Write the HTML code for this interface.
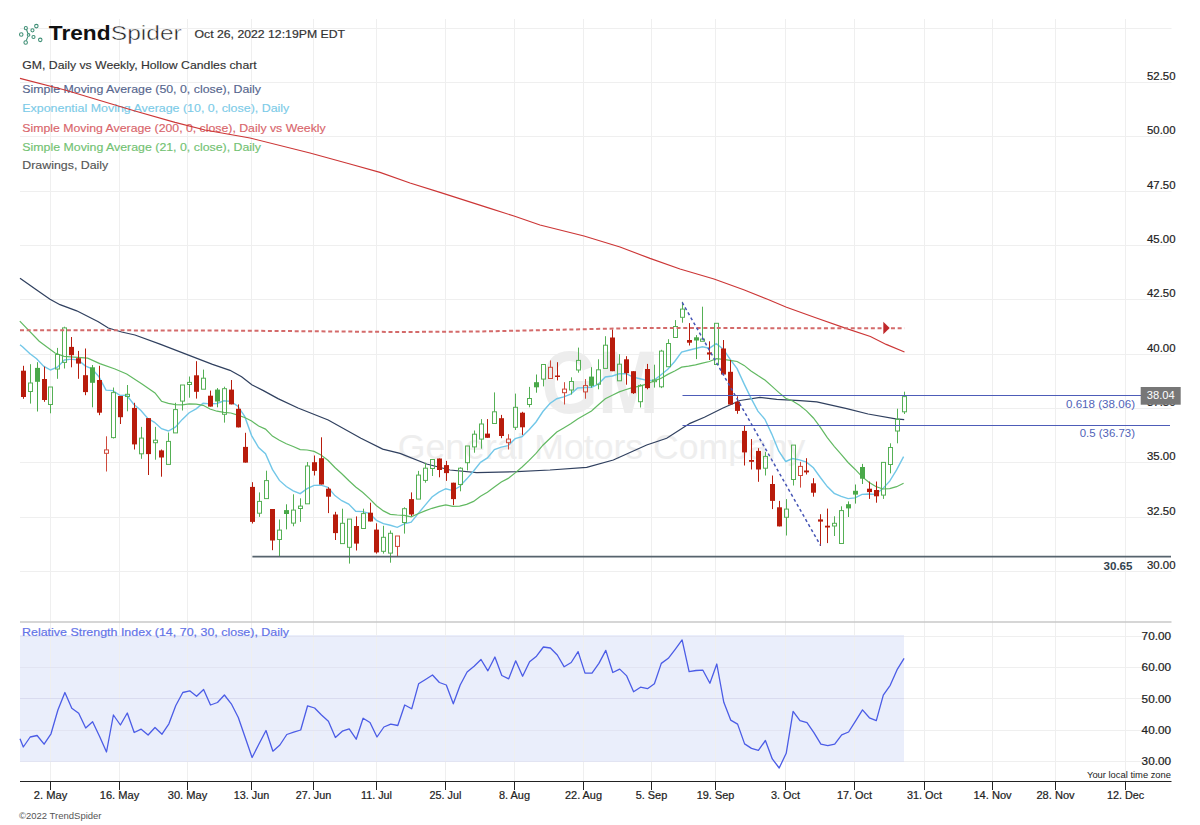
<!DOCTYPE html><html><head><meta charset="utf-8"><style>html,body{margin:0;padding:0;background:#fff;}svg{display:block}</style></head><body>
<svg width="1200" height="825" viewBox="0 0 1200 825" font-family="Liberation Sans, sans-serif">
<rect width="1200" height="825" fill="#fff"/>
<rect x="20" y="635" width="884" height="126.5" fill="#eaeefb"/>
<line x1="50.5" y1="19" x2="50.5" y2="781" stroke="#efefef" stroke-width="1"/>
<line x1="119.5" y1="19" x2="119.5" y2="781" stroke="#efefef" stroke-width="1"/>
<line x1="187.5" y1="19" x2="187.5" y2="781" stroke="#efefef" stroke-width="1"/>
<line x1="251.5" y1="19" x2="251.5" y2="781" stroke="#efefef" stroke-width="1"/>
<line x1="313.5" y1="19" x2="313.5" y2="781" stroke="#efefef" stroke-width="1"/>
<line x1="376.5" y1="19" x2="376.5" y2="781" stroke="#efefef" stroke-width="1"/>
<line x1="445.5" y1="19" x2="445.5" y2="781" stroke="#efefef" stroke-width="1"/>
<line x1="514.5" y1="19" x2="514.5" y2="781" stroke="#efefef" stroke-width="1"/>
<line x1="583.5" y1="19" x2="583.5" y2="781" stroke="#efefef" stroke-width="1"/>
<line x1="651.5" y1="19" x2="651.5" y2="781" stroke="#efefef" stroke-width="1"/>
<line x1="715.5" y1="19" x2="715.5" y2="781" stroke="#efefef" stroke-width="1"/>
<line x1="785.5" y1="19" x2="785.5" y2="781" stroke="#efefef" stroke-width="1"/>
<line x1="854.5" y1="19" x2="854.5" y2="781" stroke="#efefef" stroke-width="1"/>
<line x1="924.5" y1="19" x2="924.5" y2="781" stroke="#efefef" stroke-width="1"/>
<line x1="992.5" y1="19" x2="992.5" y2="781" stroke="#efefef" stroke-width="1"/>
<line x1="1055.5" y1="19" x2="1055.5" y2="781" stroke="#efefef" stroke-width="1"/>
<line x1="1125.5" y1="19" x2="1125.5" y2="781" stroke="#efefef" stroke-width="1"/>
<line x1="20" y1="82.5" x2="1171.5" y2="82.5" stroke="#efefef" stroke-width="1"/>
<line x1="20" y1="136.5" x2="1171.5" y2="136.5" stroke="#efefef" stroke-width="1"/>
<line x1="20" y1="191.5" x2="1171.5" y2="191.5" stroke="#efefef" stroke-width="1"/>
<line x1="20" y1="245.5" x2="1171.5" y2="245.5" stroke="#efefef" stroke-width="1"/>
<line x1="20" y1="299.5" x2="1171.5" y2="299.5" stroke="#efefef" stroke-width="1"/>
<line x1="20" y1="354.5" x2="1171.5" y2="354.5" stroke="#efefef" stroke-width="1"/>
<line x1="20" y1="408.5" x2="1171.5" y2="408.5" stroke="#efefef" stroke-width="1"/>
<line x1="20" y1="462.5" x2="1171.5" y2="462.5" stroke="#efefef" stroke-width="1"/>
<line x1="20" y1="517.5" x2="1171.5" y2="517.5" stroke="#efefef" stroke-width="1"/>
<line x1="20" y1="571.5" x2="1171.5" y2="571.5" stroke="#efefef" stroke-width="1"/>
<line x1="20" y1="28.5" x2="1171.5" y2="28.5" stroke="#efefef" stroke-width="1"/>
<line x1="20" y1="636.5" x2="904" y2="636.5" stroke="#e2e4f2" stroke-width="1"/>
<line x1="904" y1="636.5" x2="1171.5" y2="636.5" stroke="#efefef" stroke-width="1"/>
<line x1="20" y1="667.5" x2="904" y2="667.5" stroke="#e2e4f2" stroke-width="1"/>
<line x1="904" y1="667.5" x2="1171.5" y2="667.5" stroke="#efefef" stroke-width="1"/>
<line x1="20" y1="698.5" x2="904" y2="698.5" stroke="#d9dbef" stroke-width="1"/>
<line x1="904" y1="698.5" x2="1171.5" y2="698.5" stroke="#efefef" stroke-width="1"/>
<line x1="20" y1="730.5" x2="904" y2="730.5" stroke="#e2e4f2" stroke-width="1"/>
<line x1="904" y1="730.5" x2="1171.5" y2="730.5" stroke="#efefef" stroke-width="1"/>
<line x1="20" y1="761.5" x2="904" y2="761.5" stroke="#e2e4f2" stroke-width="1"/>
<line x1="904" y1="761.5" x2="1171.5" y2="761.5" stroke="#efefef" stroke-width="1"/>
<line x1="20" y1="622" x2="1171.5" y2="622" stroke="#c9c9c9" stroke-width="1.5"/>
<text x="541.3" y="412.5" font-size="89" font-weight="bold" fill="#ededed" textLength="117.4" lengthAdjust="spacingAndGlyphs">GM</text>
<text x="397.8" y="459" font-size="35.6" fill="#eeeeee" textLength="407.6" lengthAdjust="spacingAndGlyphs">General Motors Company</text>
<text x="1175.5" y="80.0" font-size="11" fill="#222" stroke="#222" stroke-width="0.2" text-anchor="end" textLength="28.5" lengthAdjust="spacingAndGlyphs">52.50</text>
<text x="1175.5" y="134.3" font-size="11" fill="#222" stroke="#222" stroke-width="0.2" text-anchor="end" textLength="28.5" lengthAdjust="spacingAndGlyphs">50.00</text>
<text x="1175.5" y="188.7" font-size="11" fill="#222" stroke="#222" stroke-width="0.2" text-anchor="end" textLength="28.5" lengthAdjust="spacingAndGlyphs">47.50</text>
<text x="1175.5" y="243.0" font-size="11" fill="#222" stroke="#222" stroke-width="0.2" text-anchor="end" textLength="28.5" lengthAdjust="spacingAndGlyphs">45.00</text>
<text x="1175.5" y="297.3" font-size="11" fill="#222" stroke="#222" stroke-width="0.2" text-anchor="end" textLength="28.5" lengthAdjust="spacingAndGlyphs">42.50</text>
<text x="1175.5" y="351.7" font-size="11" fill="#222" stroke="#222" stroke-width="0.2" text-anchor="end" textLength="28.5" lengthAdjust="spacingAndGlyphs">40.00</text>
<text x="1175.5" y="406.0" font-size="11" fill="#222" stroke="#222" stroke-width="0.2" text-anchor="end" textLength="28.5" lengthAdjust="spacingAndGlyphs">37.50</text>
<text x="1175.5" y="460.3" font-size="11" fill="#222" stroke="#222" stroke-width="0.2" text-anchor="end" textLength="28.5" lengthAdjust="spacingAndGlyphs">35.00</text>
<text x="1175.5" y="514.7" font-size="11" fill="#222" stroke="#222" stroke-width="0.2" text-anchor="end" textLength="28.5" lengthAdjust="spacingAndGlyphs">32.50</text>
<text x="1175.5" y="569.0" font-size="11" fill="#222" stroke="#222" stroke-width="0.2" text-anchor="end" textLength="28.5" lengthAdjust="spacingAndGlyphs">30.00</text>
<text x="1171" y="640" font-size="10.6" fill="#222" stroke="#222" stroke-width="0.2" text-anchor="end" textLength="29.4" lengthAdjust="spacingAndGlyphs">70.00</text>
<text x="1171" y="671.2" font-size="10.6" fill="#222" stroke="#222" stroke-width="0.2" text-anchor="end" textLength="29.4" lengthAdjust="spacingAndGlyphs">60.00</text>
<text x="1171" y="702.5" font-size="10.6" fill="#222" stroke="#222" stroke-width="0.2" text-anchor="end" textLength="29.4" lengthAdjust="spacingAndGlyphs">50.00</text>
<text x="1171" y="734" font-size="10.6" fill="#222" stroke="#222" stroke-width="0.2" text-anchor="end" textLength="29.4" lengthAdjust="spacingAndGlyphs">40.00</text>
<text x="1171" y="765.2" font-size="10.6" fill="#222" stroke="#222" stroke-width="0.2" text-anchor="end" textLength="29.4" lengthAdjust="spacingAndGlyphs">30.00</text>
<text x="1171" y="777.9" font-size="9" fill="#222" text-anchor="end" textLength="84" lengthAdjust="spacingAndGlyphs">Your local time zone</text>
<line x1="20" y1="781.5" x2="1171.5" y2="781.5" stroke="#222" stroke-width="1.2"/>
<line x1="50.5" y1="781" x2="50.5" y2="790" stroke="#222" stroke-width="1"/>
<text x="50.5" y="799" font-size="10.2" fill="#222" stroke="#222" stroke-width="0.2" text-anchor="middle" textLength="33.4" lengthAdjust="spacingAndGlyphs">2. May</text>
<line x1="119.5" y1="781" x2="119.5" y2="790" stroke="#222" stroke-width="1"/>
<text x="119.5" y="799" font-size="10.2" fill="#222" stroke="#222" stroke-width="0.2" text-anchor="middle" textLength="39.4" lengthAdjust="spacingAndGlyphs">16. May</text>
<line x1="187.5" y1="781" x2="187.5" y2="790" stroke="#222" stroke-width="1"/>
<text x="187.5" y="799" font-size="10.2" fill="#222" stroke="#222" stroke-width="0.2" text-anchor="middle" textLength="39.4" lengthAdjust="spacingAndGlyphs">30. May</text>
<line x1="251.5" y1="781" x2="251.5" y2="790" stroke="#222" stroke-width="1"/>
<text x="251.5" y="799" font-size="10.2" fill="#222" stroke="#222" stroke-width="0.2" text-anchor="middle" textLength="35.4" lengthAdjust="spacingAndGlyphs">13. Jun</text>
<line x1="313.5" y1="781" x2="313.5" y2="790" stroke="#222" stroke-width="1"/>
<text x="313.5" y="799" font-size="10.2" fill="#222" stroke="#222" stroke-width="0.2" text-anchor="middle" textLength="35.4" lengthAdjust="spacingAndGlyphs">27. Jun</text>
<line x1="376.5" y1="781" x2="376.5" y2="790" stroke="#222" stroke-width="1"/>
<text x="376.5" y="799" font-size="10.2" fill="#222" stroke="#222" stroke-width="0.2" text-anchor="middle" textLength="31.0" lengthAdjust="spacingAndGlyphs">11. Jul</text>
<line x1="445.5" y1="781" x2="445.5" y2="790" stroke="#222" stroke-width="1"/>
<text x="445.5" y="799" font-size="10.2" fill="#222" stroke="#222" stroke-width="0.2" text-anchor="middle" textLength="31.8" lengthAdjust="spacingAndGlyphs">25. Jul</text>
<line x1="514.5" y1="781" x2="514.5" y2="790" stroke="#222" stroke-width="1"/>
<text x="514.5" y="799" font-size="10.2" fill="#222" stroke="#222" stroke-width="0.2" text-anchor="middle" textLength="31.0" lengthAdjust="spacingAndGlyphs">8. Aug</text>
<line x1="583.5" y1="781" x2="583.5" y2="790" stroke="#222" stroke-width="1"/>
<text x="583.5" y="799" font-size="10.2" fill="#222" stroke="#222" stroke-width="0.2" text-anchor="middle" textLength="37.0" lengthAdjust="spacingAndGlyphs">22. Aug</text>
<line x1="651.5" y1="781" x2="651.5" y2="790" stroke="#222" stroke-width="1"/>
<text x="651.5" y="799" font-size="10.2" fill="#222" stroke="#222" stroke-width="0.2" text-anchor="middle" textLength="31.6" lengthAdjust="spacingAndGlyphs">5. Sep</text>
<line x1="715.5" y1="781" x2="715.5" y2="790" stroke="#222" stroke-width="1"/>
<text x="715.5" y="799" font-size="10.2" fill="#222" stroke="#222" stroke-width="0.2" text-anchor="middle" textLength="37.6" lengthAdjust="spacingAndGlyphs">19. Sep</text>
<line x1="785.5" y1="781" x2="785.5" y2="790" stroke="#222" stroke-width="1"/>
<text x="785.5" y="799" font-size="10.2" fill="#222" stroke="#222" stroke-width="0.2" text-anchor="middle" textLength="29.0" lengthAdjust="spacingAndGlyphs">3. Oct</text>
<line x1="854.5" y1="781" x2="854.5" y2="790" stroke="#222" stroke-width="1"/>
<text x="854.5" y="799" font-size="10.2" fill="#222" stroke="#222" stroke-width="0.2" text-anchor="middle" textLength="35.0" lengthAdjust="spacingAndGlyphs">17. Oct</text>
<line x1="924.5" y1="781" x2="924.5" y2="790" stroke="#222" stroke-width="1"/>
<text x="924.5" y="799" font-size="10.2" fill="#222" stroke="#222" stroke-width="0.2" text-anchor="middle" textLength="35.0" lengthAdjust="spacingAndGlyphs">31. Oct</text>
<line x1="992.5" y1="781" x2="992.5" y2="790" stroke="#222" stroke-width="1"/>
<text x="992.5" y="799" font-size="10.2" fill="#222" stroke="#222" stroke-width="0.2" text-anchor="middle" textLength="38.2" lengthAdjust="spacingAndGlyphs">14. Nov</text>
<line x1="1055.5" y1="781" x2="1055.5" y2="790" stroke="#222" stroke-width="1"/>
<text x="1055.5" y="799" font-size="10.2" fill="#222" stroke="#222" stroke-width="0.2" text-anchor="middle" textLength="38.2" lengthAdjust="spacingAndGlyphs">28. Nov</text>
<line x1="1125.5" y1="781" x2="1125.5" y2="790" stroke="#222" stroke-width="1"/>
<text x="1125.5" y="799" font-size="10.2" fill="#222" stroke="#222" stroke-width="0.2" text-anchor="middle" textLength="37.2" lengthAdjust="spacingAndGlyphs">12. Dec</text>
<text x="19" y="818.8" font-size="8.8" fill="#555" textLength="82.5" lengthAdjust="spacingAndGlyphs">©2022 TrendSpider</text>
<text x="194.5" y="38" font-size="11.6" fill="#333" stroke="#333" stroke-width="0.2" textLength="150.5" lengthAdjust="spacingAndGlyphs">Oct 26, 2022 12:19PM EDT</text>
<text x="22.3" y="68.8" font-size="11.6" fill="#333" stroke="#333" stroke-width="0.15" textLength="234.4" lengthAdjust="spacingAndGlyphs">GM, Daily vs Weekly, Hollow Candles chart</text>
<text x="22.3" y="93.1" font-size="11.6" fill="#56668e" stroke="#56668e" stroke-width="0.15" textLength="238.7" lengthAdjust="spacingAndGlyphs">Simple Moving Average (50, 0, close), Daily</text>
<text x="22.3" y="112" font-size="11.6" fill="#7ccbe8" stroke="#7ccbe8" stroke-width="0.15" textLength="267" lengthAdjust="spacingAndGlyphs">Exponential Moving Average (10, 0, close), Daily</text>
<text x="22.3" y="131.7" font-size="11.6" fill="#d9656b" stroke="#d9656b" stroke-width="0.15" textLength="303.4" lengthAdjust="spacingAndGlyphs">Simple Moving Average (200, 0, close), Daily vs Weekly</text>
<text x="22.3" y="150.6" font-size="11.6" fill="#72c272" stroke="#72c272" stroke-width="0.15" textLength="238.7" lengthAdjust="spacingAndGlyphs">Simple Moving Average (21, 0, close), Daily</text>
<text x="22.3" y="169.2" font-size="11.6" fill="#555" stroke="#555" stroke-width="0.15" textLength="86" lengthAdjust="spacingAndGlyphs">Drawings, Daily</text>
<text x="48.8" y="40.3" font-size="20.3" font-weight="bold" fill="#111" textLength="61.7" lengthAdjust="spacingAndGlyphs">Trend</text>
<text x="110.8" y="40.3" font-size="20.3" fill="#222" stroke="#fff" stroke-width="0.45" textLength="71" lengthAdjust="spacingAndGlyphs">Spider</text>
<polyline points="20.0,78.4 65.0,90.0 95.0,99.0 135.0,111.0 175.0,122.4 205.0,130.0 250.0,138.0 310.0,153.0 350.0,164.0 380.0,172.4 410.0,183.0 440.0,192.4 490.0,208.4 514.0,216.0 540.0,225.0 584.0,236.0 620.0,247.0 650.0,258.4 680.0,269.0 714.0,279.0 743.7,289.8 767.5,299.3 786.5,307.2 815.0,317.5 846.7,328.6 870.4,336.5 886.2,344.4 904.5,352.0" fill="none" stroke="#cc3636" stroke-width="1.15"/>
<polyline points="20.0,278.3 36.7,290.0 50.0,299.2 60.0,304.7 76.7,310.8 98.3,321.7 108.3,328.0 121.7,332.0 135.0,335.0 160.0,344.2 212.5,364.4 230.0,370.3 241.6,376.8 251.8,384.8 263.4,390.6 278.0,398.6 298.0,408.0 328.2,420.0 360.9,438.2 382.7,449.1 400.0,453.3 426.7,464.0 450.0,470.0 476.7,472.7 516.7,471.7 550.0,470.0 586.7,467.3 613.3,460.0 646.7,445.0 666.7,438.3 690.0,423.3 704.4,417.3 722.5,408.2 740.0,400.5 760.0,397.3 776.7,399.3 800.0,400.7 816.8,401.8 846.8,408.7 868.1,414.0 895.7,418.9 904.2,419.7" fill="none" stroke="#30405f" stroke-width="1.25"/>
<polyline points="20.0,344.8 22.8,347.0 29.7,353.5 36.6,358.7 43.6,366.2 50.5,370.0 57.4,367.2 64.4,360.0 71.3,359.1 78.2,360.0 85.2,365.8 92.1,368.9 99.0,376.9 106.0,390.1 112.9,390.6 119.9,395.4 126.8,395.2 133.7,404.2 140.7,410.3 147.6,418.3 154.5,422.3 161.5,428.7 168.4,431.0 175.3,427.1 182.3,419.4 189.2,412.7 196.1,408.9 203.1,403.3 210.0,403.9 217.0,403.5 223.9,400.8 230.8,401.4 237.8,406.2 244.7,416.4 251.6,435.6 258.6,447.6 265.5,453.6 272.4,469.4 279.4,480.4 286.3,486.5 293.2,490.8 300.2,493.6 307.1,488.6 314.1,485.4 321.0,485.2 327.9,487.3 334.9,495.6 341.8,500.7 348.7,504.0 355.7,511.2 362.6,511.6 369.5,513.4 376.5,520.5 383.4,523.6 390.3,525.3 397.3,527.3 404.2,523.9 411.2,522.2 418.1,513.6 425.0,505.4 432.0,497.0 438.9,492.1 445.8,488.7 452.8,490.6 459.7,486.5 466.6,479.1 473.6,471.0 480.5,462.4 487.4,457.9 494.4,449.6 501.3,447.1 508.2,445.6 515.2,438.7 522.1,436.6 529.1,429.7 536.0,422.0 542.9,411.5 549.9,403.5 556.8,398.7 563.7,396.9 570.7,394.1 577.6,388.0 584.5,387.6 591.5,387.3 598.4,384.1 605.3,377.0 612.3,376.0 619.2,373.8 626.2,373.7 633.1,377.2 640.0,378.7 647.0,380.4 653.9,380.4 660.8,375.0 667.8,369.3 674.7,361.5 681.6,352.0 688.6,350.3 695.5,348.5 702.4,346.8 709.4,348.2 716.3,343.7 723.3,349.3 730.2,359.3 737.1,368.7 744.1,383.9 751.0,398.1 757.9,411.1 764.9,419.3 771.8,434.1 778.7,450.9 785.7,461.5 792.6,458.5 799.5,459.9 806.5,462.2 813.4,467.8 820.4,477.5 827.3,486.6 834.2,493.3 841.2,496.4 848.1,498.6 855.0,497.9 862.0,494.4 868.9,494.0 875.8,494.4 882.8,488.6 889.7,481.1 896.6,469.9 903.6,456.6" fill="none" stroke="#72c7e8" stroke-width="1.4"/>
<polyline points="19.8,321.2 39.2,341.2 55.0,353.0 64.0,356.4 87.7,358.2 99.8,363.6 115.0,369.0 126.7,374.0 142.0,384.1 155.0,393.0 161.5,401.2 168.4,403.3 175.3,404.6 182.3,404.8 189.2,403.9 196.1,404.2 203.1,405.3 210.0,409.0 217.0,411.2 223.9,412.4 230.8,413.0 237.8,415.1 244.7,417.5 251.6,420.9 258.6,426.1 265.5,429.1 272.4,436.1 279.4,440.2 286.3,443.8 293.2,446.5 300.2,449.6 307.1,450.0 314.1,451.4 321.0,455.0 327.9,460.3 334.9,467.5 341.8,473.7 348.7,480.5 355.7,487.0 362.6,492.3 369.5,498.6 376.5,505.7 383.4,510.9 390.3,514.3 397.3,515.0 404.2,515.3 411.2,516.9 418.1,513.8 425.0,510.9 432.0,508.3 438.9,506.4 445.8,504.8 452.8,506.4 459.7,506.2 466.6,504.4 473.6,501.4 480.5,496.2 487.4,492.2 494.4,487.0 501.3,481.9 508.2,478.4 515.2,472.9 522.1,467.0 529.1,460.4 536.0,453.4 542.9,445.2 549.9,438.5 556.8,432.0 563.7,427.9 570.7,423.7 577.6,419.0 584.5,415.0 591.5,410.9 598.4,404.7 605.3,398.8 612.3,395.3 619.2,391.9 626.2,389.5 633.1,387.4 640.0,386.1 647.0,383.9 653.9,381.0 660.8,378.4 667.8,374.4 674.7,371.0 681.6,367.2 688.6,366.2 695.5,364.9 702.4,363.1 709.4,361.5 716.3,358.7 723.3,359.4 730.2,360.3 737.1,361.5 744.1,365.4 751.0,370.9 757.9,375.6 764.9,380.0 771.8,386.1 778.7,392.4 785.7,398.3 792.6,401.0 799.5,405.2 806.5,410.9 813.4,418.0 820.4,427.3 827.3,437.7 834.2,446.3 841.2,454.4 848.1,462.5 855.0,469.2 862.0,476.6 868.9,482.2 875.8,486.5 882.8,489.0 889.7,488.7 896.6,486.7 903.6,483.3" fill="none" stroke="#62b962" stroke-width="1.2"/>
<line x1="23.5" y1="365.8" x2="23.5" y2="398.8" stroke="#b81c0c" stroke-width="1"/>
<rect x="21" y="370.7" width="5" height="26.3" fill="#b81c0c"/>
<line x1="30.5" y1="364.2" x2="30.5" y2="383.0" stroke="#55b055" stroke-width="1"/>
<line x1="30.5" y1="391.5" x2="30.5" y2="403.6" stroke="#55b055" stroke-width="1"/>
<rect x="28.5" y="383.0" width="4" height="8.5" fill="none" stroke="#55b055" stroke-width="1"/>
<line x1="37.5" y1="362.2" x2="37.5" y2="411.5" stroke="#4aa94a" stroke-width="1"/>
<rect x="35" y="367.9" width="5" height="13.9" fill="#4aa94a"/>
<line x1="44.5" y1="366.7" x2="44.5" y2="401.8" stroke="#b81c0c" stroke-width="1"/>
<rect x="42" y="379.0" width="5" height="21.0" fill="#b81c0c"/>
<line x1="50.5" y1="404.5" x2="50.5" y2="413.3" stroke="#55b055" stroke-width="1"/>
<rect x="48.5" y="387.0" width="4" height="17.5" fill="none" stroke="#55b055" stroke-width="1"/>
<line x1="57.5" y1="347.9" x2="57.5" y2="354.5" stroke="#55b055" stroke-width="1"/>
<line x1="57.5" y1="369.0" x2="57.5" y2="378.8" stroke="#55b055" stroke-width="1"/>
<rect x="55.5" y="354.5" width="4" height="14.5" fill="none" stroke="#55b055" stroke-width="1"/>
<line x1="64.5" y1="326.7" x2="64.5" y2="327.9" stroke="#55b055" stroke-width="1"/>
<line x1="64.5" y1="362.4" x2="64.5" y2="368.5" stroke="#55b055" stroke-width="1"/>
<rect x="62.5" y="327.9" width="4" height="34.5" fill="none" stroke="#55b055" stroke-width="1"/>
<line x1="71.5" y1="337.0" x2="71.5" y2="367.3" stroke="#b81c0c" stroke-width="1"/>
<rect x="69" y="346.9" width="5" height="8.3" fill="#b81c0c"/>
<line x1="78.5" y1="350.9" x2="78.5" y2="378.8" stroke="#b81c0c" stroke-width="1"/>
<rect x="76" y="358.2" width="5" height="5.4" fill="#b81c0c"/>
<line x1="85.5" y1="348.5" x2="85.5" y2="395.2" stroke="#b81c0c" stroke-width="1"/>
<rect x="83" y="375.2" width="5" height="16.9" fill="#b81c0c"/>
<line x1="92.5" y1="365.0" x2="92.5" y2="407.3" stroke="#4aa94a" stroke-width="1"/>
<rect x="90" y="367.3" width="5" height="15.5" fill="#4aa94a"/>
<line x1="99.5" y1="365.8" x2="99.5" y2="415.2" stroke="#b81c0c" stroke-width="1"/>
<rect x="97" y="380.0" width="5" height="32.7" fill="#b81c0c"/>
<line x1="106.5" y1="436.3" x2="106.5" y2="449.9" stroke="#cf4a3c" stroke-width="1"/>
<line x1="106.5" y1="453.3" x2="106.5" y2="471.5" stroke="#cf4a3c" stroke-width="1"/>
<rect x="104.5" y="449.9" width="4" height="3.4" fill="none" stroke="#cf4a3c" stroke-width="1"/>
<line x1="113.5" y1="387.5" x2="113.5" y2="392.6" stroke="#55b055" stroke-width="1"/>
<line x1="113.5" y1="437.6" x2="113.5" y2="438.5" stroke="#55b055" stroke-width="1"/>
<rect x="111.5" y="392.6" width="4" height="45.0" fill="none" stroke="#55b055" stroke-width="1"/>
<line x1="120.5" y1="396.0" x2="120.5" y2="424.0" stroke="#b81c0c" stroke-width="1"/>
<rect x="118" y="396.0" width="5" height="21.2" fill="#b81c0c"/>
<line x1="127.5" y1="385.0" x2="127.5" y2="394.3" stroke="#55b055" stroke-width="1"/>
<line x1="127.5" y1="396.5" x2="127.5" y2="411.3" stroke="#55b055" stroke-width="1"/>
<rect x="125.5" y="394.3" width="4" height="2.2" fill="none" stroke="#55b055" stroke-width="1"/>
<line x1="134.5" y1="402.8" x2="134.5" y2="449.5" stroke="#b81c0c" stroke-width="1"/>
<rect x="132" y="407.9" width="5" height="36.5" fill="#b81c0c"/>
<line x1="141.5" y1="426.9" x2="141.5" y2="438.1" stroke="#55b055" stroke-width="1"/>
<line x1="141.5" y1="453.8" x2="141.5" y2="458.8" stroke="#55b055" stroke-width="1"/>
<rect x="139.5" y="438.1" width="4" height="15.7" fill="none" stroke="#55b055" stroke-width="1"/>
<line x1="148.5" y1="418.1" x2="148.5" y2="475.0" stroke="#b81c0c" stroke-width="1"/>
<rect x="146" y="418.1" width="5" height="36.0" fill="#b81c0c"/>
<line x1="155.5" y1="426.9" x2="155.5" y2="440.2" stroke="#55b055" stroke-width="1"/>
<line x1="155.5" y1="442.7" x2="155.5" y2="459.7" stroke="#55b055" stroke-width="1"/>
<rect x="153.5" y="440.2" width="4" height="2.5" fill="none" stroke="#55b055" stroke-width="1"/>
<line x1="161.5" y1="449.5" x2="161.5" y2="476.7" stroke="#b81c0c" stroke-width="1"/>
<rect x="159" y="450.4" width="5" height="7.1" fill="#b81c0c"/>
<line x1="168.5" y1="432.5" x2="168.5" y2="441.4" stroke="#55b055" stroke-width="1"/>
<rect x="166.5" y="441.4" width="4" height="23.0" fill="none" stroke="#55b055" stroke-width="1"/>
<line x1="175.5" y1="402.8" x2="175.5" y2="409.6" stroke="#55b055" stroke-width="1"/>
<rect x="173.5" y="409.6" width="4" height="23.3" fill="none" stroke="#55b055" stroke-width="1"/>
<line x1="182.5" y1="401.1" x2="182.5" y2="410.5" stroke="#55b055" stroke-width="1"/>
<rect x="180.5" y="385.0" width="4" height="16.1" fill="none" stroke="#55b055" stroke-width="1"/>
<line x1="189.5" y1="376.5" x2="189.5" y2="382.4" stroke="#55b055" stroke-width="1"/>
<line x1="189.5" y1="384.5" x2="189.5" y2="397.7" stroke="#55b055" stroke-width="1"/>
<rect x="187.5" y="382.4" width="4" height="2.1" fill="none" stroke="#55b055" stroke-width="1"/>
<line x1="196.5" y1="361.2" x2="196.5" y2="398.6" stroke="#b81c0c" stroke-width="1"/>
<rect x="194" y="375.3" width="5" height="16.5" fill="#b81c0c"/>
<line x1="203.5" y1="369.6" x2="203.5" y2="378.2" stroke="#55b055" stroke-width="1"/>
<rect x="201.5" y="378.2" width="4" height="11.0" fill="none" stroke="#55b055" stroke-width="1"/>
<line x1="210.5" y1="390.6" x2="210.5" y2="406.6" stroke="#b81c0c" stroke-width="1"/>
<rect x="208" y="395.7" width="5" height="10.9" fill="#b81c0c"/>
<line x1="217.5" y1="388.1" x2="217.5" y2="407.3" stroke="#4aa94a" stroke-width="1"/>
<rect x="215" y="389.6" width="5" height="11.9" fill="#4aa94a"/>
<line x1="224.5" y1="386.7" x2="224.5" y2="388.7" stroke="#55b055" stroke-width="1"/>
<line x1="224.5" y1="414.3" x2="224.5" y2="422.6" stroke="#55b055" stroke-width="1"/>
<rect x="222.5" y="388.7" width="4" height="25.6" fill="none" stroke="#55b055" stroke-width="1"/>
<line x1="231.5" y1="380.0" x2="231.5" y2="404.4" stroke="#b81c0c" stroke-width="1"/>
<rect x="229" y="389.6" width="5" height="14.8" fill="#b81c0c"/>
<line x1="238.5" y1="404.4" x2="238.5" y2="427.4" stroke="#b81c0c" stroke-width="1"/>
<rect x="236" y="408.8" width="5" height="18.6" fill="#b81c0c"/>
<line x1="245.5" y1="432.8" x2="245.5" y2="462.6" stroke="#b81c0c" stroke-width="1"/>
<rect x="243" y="446.9" width="5" height="15.7" fill="#b81c0c"/>
<line x1="252.5" y1="482.2" x2="252.5" y2="523.5" stroke="#b81c0c" stroke-width="1"/>
<rect x="250" y="486.9" width="5" height="35.0" fill="#b81c0c"/>
<line x1="259.5" y1="492.4" x2="259.5" y2="501.4" stroke="#55b055" stroke-width="1"/>
<line x1="259.5" y1="513.2" x2="259.5" y2="516.9" stroke="#55b055" stroke-width="1"/>
<rect x="257.5" y="501.4" width="4" height="11.8" fill="none" stroke="#55b055" stroke-width="1"/>
<line x1="266.5" y1="470.7" x2="266.5" y2="480.6" stroke="#55b055" stroke-width="1"/>
<rect x="264.5" y="480.6" width="4" height="18.0" fill="none" stroke="#55b055" stroke-width="1"/>
<line x1="272.5" y1="509.0" x2="272.5" y2="550.2" stroke="#b81c0c" stroke-width="1"/>
<rect x="270" y="509.0" width="5" height="31.5" fill="#b81c0c"/>
<line x1="279.5" y1="519.5" x2="279.5" y2="530.1" stroke="#55b055" stroke-width="1"/>
<line x1="279.5" y1="539.5" x2="279.5" y2="556.5" stroke="#55b055" stroke-width="1"/>
<rect x="277.5" y="530.1" width="4" height="9.4" fill="none" stroke="#55b055" stroke-width="1"/>
<line x1="286.5" y1="504.3" x2="286.5" y2="529.4" stroke="#4aa94a" stroke-width="1"/>
<rect x="284" y="510.1" width="5" height="3.9" fill="#4aa94a"/>
<line x1="293.5" y1="494.3" x2="293.5" y2="510.1" stroke="#55b055" stroke-width="1"/>
<line x1="293.5" y1="523.1" x2="293.5" y2="526.3" stroke="#55b055" stroke-width="1"/>
<rect x="291.5" y="510.1" width="4" height="13.0" fill="none" stroke="#55b055" stroke-width="1"/>
<line x1="300.5" y1="498.3" x2="300.5" y2="506.1" stroke="#55b055" stroke-width="1"/>
<line x1="300.5" y1="508.5" x2="300.5" y2="521.9" stroke="#55b055" stroke-width="1"/>
<rect x="298.5" y="506.1" width="4" height="2.4" fill="none" stroke="#55b055" stroke-width="1"/>
<line x1="307.5" y1="462.0" x2="307.5" y2="466.0" stroke="#55b055" stroke-width="1"/>
<rect x="305.5" y="466.0" width="4" height="37.8" fill="none" stroke="#55b055" stroke-width="1"/>
<line x1="314.5" y1="455.5" x2="314.5" y2="475.5" stroke="#b81c0c" stroke-width="1"/>
<rect x="312" y="462.2" width="5" height="8.7" fill="#b81c0c"/>
<line x1="321.5" y1="437.3" x2="321.5" y2="484.5" stroke="#b81c0c" stroke-width="1"/>
<rect x="319" y="458.2" width="5" height="26.3" fill="#b81c0c"/>
<line x1="328.5" y1="487.3" x2="328.5" y2="513.1" stroke="#b81c0c" stroke-width="1"/>
<rect x="326" y="488.7" width="5" height="8.0" fill="#b81c0c"/>
<line x1="335.5" y1="511.8" x2="335.5" y2="540.0" stroke="#b81c0c" stroke-width="1"/>
<rect x="333" y="514.5" width="5" height="18.6" fill="#b81c0c"/>
<line x1="342.5" y1="508.7" x2="342.5" y2="523.3" stroke="#55b055" stroke-width="1"/>
<rect x="340.5" y="523.3" width="4" height="20.3" fill="none" stroke="#55b055" stroke-width="1"/>
<line x1="349.5" y1="547.3" x2="349.5" y2="563.6" stroke="#55b055" stroke-width="1"/>
<rect x="347.5" y="519.1" width="4" height="28.2" fill="none" stroke="#55b055" stroke-width="1"/>
<line x1="356.5" y1="516.4" x2="356.5" y2="550.5" stroke="#b81c0c" stroke-width="1"/>
<rect x="354" y="526.0" width="5" height="17.6" fill="#b81c0c"/>
<line x1="363.5" y1="508.7" x2="363.5" y2="513.6" stroke="#55b055" stroke-width="1"/>
<rect x="361.5" y="513.6" width="4" height="14.9" fill="none" stroke="#55b055" stroke-width="1"/>
<line x1="370.5" y1="502.7" x2="370.5" y2="521.5" stroke="#b81c0c" stroke-width="1"/>
<rect x="368" y="512.7" width="5" height="8.8" fill="#b81c0c"/>
<line x1="376.5" y1="523.3" x2="376.5" y2="553.6" stroke="#b81c0c" stroke-width="1"/>
<rect x="374" y="529.6" width="5" height="22.8" fill="#b81c0c"/>
<line x1="383.5" y1="525.8" x2="383.5" y2="537.3" stroke="#55b055" stroke-width="1"/>
<line x1="383.5" y1="551.3" x2="383.5" y2="553.6" stroke="#55b055" stroke-width="1"/>
<rect x="381.5" y="537.3" width="4" height="14.0" fill="none" stroke="#55b055" stroke-width="1"/>
<line x1="390.5" y1="530.5" x2="390.5" y2="533.3" stroke="#55b055" stroke-width="1"/>
<line x1="390.5" y1="553.1" x2="390.5" y2="562.7" stroke="#55b055" stroke-width="1"/>
<rect x="388.5" y="533.3" width="4" height="19.8" fill="none" stroke="#55b055" stroke-width="1"/>
<line x1="397.5" y1="546.4" x2="397.5" y2="556.0" stroke="#cf4a3c" stroke-width="1"/>
<rect x="395.5" y="536.0" width="4" height="10.4" fill="none" stroke="#cf4a3c" stroke-width="1"/>
<line x1="404.5" y1="507.3" x2="404.5" y2="508.7" stroke="#55b055" stroke-width="1"/>
<line x1="404.5" y1="522.5" x2="404.5" y2="533.6" stroke="#55b055" stroke-width="1"/>
<rect x="402.5" y="508.7" width="4" height="13.8" fill="none" stroke="#55b055" stroke-width="1"/>
<line x1="411.5" y1="492.4" x2="411.5" y2="516.0" stroke="#b81c0c" stroke-width="1"/>
<rect x="409" y="499.1" width="5" height="15.4" fill="#b81c0c"/>
<line x1="418.5" y1="470.9" x2="418.5" y2="475.1" stroke="#55b055" stroke-width="1"/>
<rect x="416.5" y="475.1" width="4" height="24.0" fill="none" stroke="#55b055" stroke-width="1"/>
<line x1="425.5" y1="462.7" x2="425.5" y2="468.2" stroke="#55b055" stroke-width="1"/>
<line x1="425.5" y1="480.4" x2="425.5" y2="482.7" stroke="#55b055" stroke-width="1"/>
<rect x="423.5" y="468.2" width="4" height="12.2" fill="none" stroke="#55b055" stroke-width="1"/>
<line x1="432.5" y1="468.5" x2="432.5" y2="476.0" stroke="#55b055" stroke-width="1"/>
<rect x="430.5" y="459.5" width="4" height="9.0" fill="none" stroke="#55b055" stroke-width="1"/>
<line x1="439.5" y1="458.5" x2="439.5" y2="477.3" stroke="#b81c0c" stroke-width="1"/>
<rect x="437" y="458.5" width="5" height="11.5" fill="#b81c0c"/>
<line x1="446.5" y1="460.9" x2="446.5" y2="480.9" stroke="#b81c0c" stroke-width="1"/>
<rect x="444" y="465.1" width="5" height="8.0" fill="#b81c0c"/>
<line x1="453.5" y1="482.7" x2="453.5" y2="505.1" stroke="#b81c0c" stroke-width="1"/>
<rect x="451" y="482.7" width="5" height="16.4" fill="#b81c0c"/>
<line x1="460.5" y1="467.3" x2="460.5" y2="468.2" stroke="#55b055" stroke-width="1"/>
<line x1="460.5" y1="484.5" x2="460.5" y2="491.3" stroke="#55b055" stroke-width="1"/>
<rect x="458.5" y="468.2" width="4" height="16.3" fill="none" stroke="#55b055" stroke-width="1"/>
<line x1="467.5" y1="462.7" x2="467.5" y2="470.5" stroke="#55b055" stroke-width="1"/>
<rect x="465.5" y="446.0" width="4" height="16.7" fill="none" stroke="#55b055" stroke-width="1"/>
<line x1="474.5" y1="430.5" x2="474.5" y2="434.2" stroke="#55b055" stroke-width="1"/>
<line x1="474.5" y1="446.9" x2="474.5" y2="452.7" stroke="#55b055" stroke-width="1"/>
<rect x="472.5" y="434.2" width="4" height="12.7" fill="none" stroke="#55b055" stroke-width="1"/>
<line x1="481.5" y1="419.1" x2="481.5" y2="424.0" stroke="#55b055" stroke-width="1"/>
<line x1="481.5" y1="439.1" x2="481.5" y2="448.7" stroke="#55b055" stroke-width="1"/>
<rect x="479.5" y="424.0" width="4" height="15.1" fill="none" stroke="#55b055" stroke-width="1"/>
<line x1="487.5" y1="419.1" x2="487.5" y2="437.8" stroke="#b81c0c" stroke-width="1"/>
<rect x="485" y="433.6" width="5" height="4.2" fill="#b81c0c"/>
<line x1="494.5" y1="392.4" x2="494.5" y2="411.8" stroke="#55b055" stroke-width="1"/>
<rect x="492.5" y="411.8" width="4" height="11.7" fill="none" stroke="#55b055" stroke-width="1"/>
<line x1="501.5" y1="414.9" x2="501.5" y2="438.2" stroke="#b81c0c" stroke-width="1"/>
<rect x="499" y="418.2" width="5" height="17.8" fill="#b81c0c"/>
<line x1="508.5" y1="434.2" x2="508.5" y2="439.1" stroke="#cf4a3c" stroke-width="1"/>
<line x1="508.5" y1="442.7" x2="508.5" y2="449.5" stroke="#cf4a3c" stroke-width="1"/>
<rect x="506.5" y="439.1" width="4" height="3.6" fill="none" stroke="#cf4a3c" stroke-width="1"/>
<line x1="515.5" y1="393.6" x2="515.5" y2="407.3" stroke="#55b055" stroke-width="1"/>
<line x1="515.5" y1="427.3" x2="515.5" y2="430.0" stroke="#55b055" stroke-width="1"/>
<rect x="513.5" y="407.3" width="4" height="20.0" fill="none" stroke="#55b055" stroke-width="1"/>
<line x1="522.5" y1="411.8" x2="522.5" y2="434.9" stroke="#b81c0c" stroke-width="1"/>
<rect x="520" y="412.7" width="5" height="14.6" fill="#b81c0c"/>
<line x1="529.5" y1="386.9" x2="529.5" y2="398.5" stroke="#55b055" stroke-width="1"/>
<line x1="529.5" y1="404.5" x2="529.5" y2="407.3" stroke="#55b055" stroke-width="1"/>
<rect x="527.5" y="398.5" width="4" height="6.0" fill="none" stroke="#55b055" stroke-width="1"/>
<line x1="536.5" y1="374.5" x2="536.5" y2="392.7" stroke="#4aa94a" stroke-width="1"/>
<rect x="534" y="382.2" width="5" height="5.1" fill="#4aa94a"/>
<line x1="543.5" y1="379.1" x2="543.5" y2="386.4" stroke="#55b055" stroke-width="1"/>
<rect x="541.5" y="364.5" width="4" height="14.6" fill="none" stroke="#55b055" stroke-width="1"/>
<line x1="550.5" y1="360.4" x2="550.5" y2="367.3" stroke="#cf4a3c" stroke-width="1"/>
<rect x="548.5" y="367.3" width="4" height="11.2" fill="none" stroke="#cf4a3c" stroke-width="1"/>
<line x1="557.5" y1="362.2" x2="557.5" y2="380.4" stroke="#b81c0c" stroke-width="1"/>
<rect x="555" y="375.5" width="5" height="1.5" fill="#b81c0c"/>
<line x1="564.5" y1="382.2" x2="564.5" y2="389.1" stroke="#cf4a3c" stroke-width="1"/>
<line x1="564.5" y1="392.7" x2="564.5" y2="404.5" stroke="#cf4a3c" stroke-width="1"/>
<rect x="562.5" y="389.1" width="4" height="3.6" fill="none" stroke="#cf4a3c" stroke-width="1"/>
<line x1="571.5" y1="377.3" x2="571.5" y2="381.5" stroke="#55b055" stroke-width="1"/>
<line x1="571.5" y1="390.0" x2="571.5" y2="394.5" stroke="#55b055" stroke-width="1"/>
<rect x="569.5" y="381.5" width="4" height="8.5" fill="none" stroke="#55b055" stroke-width="1"/>
<line x1="578.5" y1="347.6" x2="578.5" y2="360.4" stroke="#55b055" stroke-width="1"/>
<line x1="578.5" y1="370.0" x2="578.5" y2="372.7" stroke="#55b055" stroke-width="1"/>
<rect x="576.5" y="360.4" width="4" height="9.6" fill="none" stroke="#55b055" stroke-width="1"/>
<line x1="585.5" y1="379.1" x2="585.5" y2="385.6" stroke="#cf4a3c" stroke-width="1"/>
<line x1="585.5" y1="391.9" x2="585.5" y2="398.7" stroke="#cf4a3c" stroke-width="1"/>
<rect x="583.5" y="385.6" width="4" height="6.3" fill="none" stroke="#cf4a3c" stroke-width="1"/>
<line x1="591.5" y1="367.2" x2="591.5" y2="387.6" stroke="#4aa94a" stroke-width="1"/>
<rect x="589" y="376.6" width="5" height="9.3" fill="#4aa94a"/>
<line x1="598.5" y1="359.3" x2="598.5" y2="369.8" stroke="#55b055" stroke-width="1"/>
<line x1="598.5" y1="384.2" x2="598.5" y2="389.3" stroke="#55b055" stroke-width="1"/>
<rect x="596.5" y="369.8" width="4" height="14.4" fill="none" stroke="#55b055" stroke-width="1"/>
<line x1="605.5" y1="336.2" x2="605.5" y2="345.2" stroke="#55b055" stroke-width="1"/>
<rect x="603.5" y="345.2" width="4" height="23.2" fill="none" stroke="#55b055" stroke-width="1"/>
<line x1="612.5" y1="329.4" x2="612.5" y2="371.2" stroke="#b81c0c" stroke-width="1"/>
<rect x="610" y="337.5" width="5" height="33.7" fill="#b81c0c"/>
<line x1="619.5" y1="354.2" x2="619.5" y2="364.2" stroke="#55b055" stroke-width="1"/>
<rect x="617.5" y="364.2" width="4" height="16.6" fill="none" stroke="#55b055" stroke-width="1"/>
<line x1="626.5" y1="356.2" x2="626.5" y2="384.7" stroke="#b81c0c" stroke-width="1"/>
<rect x="624" y="359.3" width="5" height="13.9" fill="#b81c0c"/>
<line x1="633.5" y1="371.2" x2="633.5" y2="393.9" stroke="#b81c0c" stroke-width="1"/>
<rect x="631" y="371.2" width="5" height="22.0" fill="#b81c0c"/>
<line x1="640.5" y1="384.2" x2="640.5" y2="385.4" stroke="#55b055" stroke-width="1"/>
<line x1="640.5" y1="401.7" x2="640.5" y2="407.5" stroke="#55b055" stroke-width="1"/>
<rect x="638.5" y="385.4" width="4" height="16.3" fill="none" stroke="#55b055" stroke-width="1"/>
<line x1="647.5" y1="363.9" x2="647.5" y2="389.3" stroke="#b81c0c" stroke-width="1"/>
<rect x="645" y="369.0" width="5" height="19.1" fill="#b81c0c"/>
<line x1="654.5" y1="364.7" x2="654.5" y2="380.0" stroke="#55b055" stroke-width="1"/>
<line x1="654.5" y1="381.7" x2="654.5" y2="387.6" stroke="#55b055" stroke-width="1"/>
<rect x="652.5" y="380.0" width="4" height="1.7" fill="none" stroke="#55b055" stroke-width="1"/>
<line x1="661.5" y1="349.8" x2="661.5" y2="351.1" stroke="#55b055" stroke-width="1"/>
<line x1="661.5" y1="386.8" x2="661.5" y2="388.1" stroke="#55b055" stroke-width="1"/>
<rect x="659.5" y="351.1" width="4" height="35.7" fill="none" stroke="#55b055" stroke-width="1"/>
<line x1="668.5" y1="339.2" x2="668.5" y2="343.5" stroke="#55b055" stroke-width="1"/>
<rect x="666.5" y="343.5" width="4" height="23.2" fill="none" stroke="#55b055" stroke-width="1"/>
<line x1="675.5" y1="320.1" x2="675.5" y2="326.5" stroke="#55b055" stroke-width="1"/>
<rect x="673.5" y="326.5" width="4" height="11.0" fill="none" stroke="#55b055" stroke-width="1"/>
<line x1="682.5" y1="301.8" x2="682.5" y2="309.1" stroke="#55b055" stroke-width="1"/>
<line x1="682.5" y1="317.3" x2="682.5" y2="322.7" stroke="#55b055" stroke-width="1"/>
<rect x="680.5" y="309.1" width="4" height="8.2" fill="none" stroke="#55b055" stroke-width="1"/>
<line x1="689.5" y1="323.1" x2="689.5" y2="345.5" stroke="#b81c0c" stroke-width="1"/>
<rect x="687" y="340.0" width="5" height="2.7" fill="#b81c0c"/>
<line x1="696.5" y1="335.1" x2="696.5" y2="359.1" stroke="#4aa94a" stroke-width="1"/>
<rect x="694" y="337.3" width="5" height="3.2" fill="#4aa94a"/>
<line x1="702.5" y1="306.7" x2="702.5" y2="339.1" stroke="#55b055" stroke-width="1"/>
<rect x="700.5" y="339.1" width="4" height="2.2" fill="none" stroke="#55b055" stroke-width="1"/>
<line x1="709.5" y1="341.3" x2="709.5" y2="360.0" stroke="#b81c0c" stroke-width="1"/>
<rect x="707" y="352.4" width="5" height="2.1" fill="#b81c0c"/>
<rect x="714.5" y="323.3" width="4" height="41.2" fill="none" stroke="#55b055" stroke-width="1"/>
<line x1="723.5" y1="340.0" x2="723.5" y2="374.5" stroke="#b81c0c" stroke-width="1"/>
<rect x="721" y="348.5" width="5" height="26.0" fill="#b81c0c"/>
<line x1="730.5" y1="360.0" x2="730.5" y2="404.5" stroke="#b81c0c" stroke-width="1"/>
<rect x="728" y="371.8" width="5" height="32.7" fill="#b81c0c"/>
<line x1="737.5" y1="396.4" x2="737.5" y2="413.8" stroke="#b81c0c" stroke-width="1"/>
<rect x="735" y="401.8" width="5" height="9.1" fill="#b81c0c"/>
<line x1="744.5" y1="425.5" x2="744.5" y2="465.5" stroke="#b81c0c" stroke-width="1"/>
<rect x="742" y="430.9" width="5" height="21.5" fill="#b81c0c"/>
<line x1="751.5" y1="439.1" x2="751.5" y2="469.5" stroke="#b81c0c" stroke-width="1"/>
<rect x="749" y="460.0" width="5" height="1.8" fill="#b81c0c"/>
<line x1="758.5" y1="448.2" x2="758.5" y2="481.8" stroke="#b81c0c" stroke-width="1"/>
<rect x="756" y="450.9" width="5" height="18.6" fill="#b81c0c"/>
<line x1="765.5" y1="451.8" x2="765.5" y2="456.4" stroke="#55b055" stroke-width="1"/>
<line x1="765.5" y1="468.2" x2="765.5" y2="475.5" stroke="#55b055" stroke-width="1"/>
<rect x="763.5" y="456.4" width="4" height="11.8" fill="none" stroke="#55b055" stroke-width="1"/>
<line x1="772.5" y1="475.5" x2="772.5" y2="509.1" stroke="#b81c0c" stroke-width="1"/>
<rect x="770" y="484.0" width="5" height="16.9" fill="#b81c0c"/>
<line x1="779.5" y1="500.9" x2="779.5" y2="526.4" stroke="#b81c0c" stroke-width="1"/>
<rect x="777" y="507.3" width="5" height="19.1" fill="#b81c0c"/>
<line x1="786.5" y1="499.1" x2="786.5" y2="509.1" stroke="#55b055" stroke-width="1"/>
<line x1="786.5" y1="517.3" x2="786.5" y2="535.5" stroke="#55b055" stroke-width="1"/>
<rect x="784.5" y="509.1" width="4" height="8.2" fill="none" stroke="#55b055" stroke-width="1"/>
<line x1="793.5" y1="479.5" x2="793.5" y2="485.5" stroke="#55b055" stroke-width="1"/>
<rect x="791.5" y="445.1" width="4" height="34.4" fill="none" stroke="#55b055" stroke-width="1"/>
<line x1="800.5" y1="461.8" x2="800.5" y2="466.4" stroke="#cf4a3c" stroke-width="1"/>
<line x1="800.5" y1="475.5" x2="800.5" y2="487.6" stroke="#cf4a3c" stroke-width="1"/>
<rect x="798.5" y="466.4" width="4" height="9.1" fill="none" stroke="#cf4a3c" stroke-width="1"/>
<line x1="806.5" y1="458.2" x2="806.5" y2="474.5" stroke="#b81c0c" stroke-width="1"/>
<rect x="804" y="470.5" width="5" height="1.9" fill="#b81c0c"/>
<line x1="813.5" y1="478.2" x2="813.5" y2="496.7" stroke="#b81c0c" stroke-width="1"/>
<rect x="811" y="483.3" width="5" height="9.4" fill="#b81c0c"/>
<line x1="820.5" y1="514.2" x2="820.5" y2="546.0" stroke="#b81c0c" stroke-width="1"/>
<rect x="818" y="519.4" width="5" height="2.2" fill="#b81c0c"/>
<line x1="827.5" y1="508.6" x2="827.5" y2="543.1" stroke="#b81c0c" stroke-width="1"/>
<rect x="825" y="525.7" width="5" height="1.8" fill="#b81c0c"/>
<line x1="834.5" y1="516.3" x2="834.5" y2="523.3" stroke="#55b055" stroke-width="1"/>
<line x1="834.5" y1="526.0" x2="834.5" y2="536.0" stroke="#55b055" stroke-width="1"/>
<rect x="832.5" y="523.3" width="4" height="2.7" fill="none" stroke="#55b055" stroke-width="1"/>
<line x1="841.5" y1="506.3" x2="841.5" y2="510.6" stroke="#55b055" stroke-width="1"/>
<rect x="839.5" y="510.6" width="4" height="32.9" fill="none" stroke="#55b055" stroke-width="1"/>
<line x1="848.5" y1="501.4" x2="848.5" y2="517.0" stroke="#4aa94a" stroke-width="1"/>
<rect x="846" y="504.2" width="5" height="4.2" fill="#4aa94a"/>
<line x1="855.5" y1="484.5" x2="855.5" y2="503.6" stroke="#4aa94a" stroke-width="1"/>
<rect x="853" y="490.8" width="5" height="3.8" fill="#4aa94a"/>
<line x1="862.5" y1="463.9" x2="862.5" y2="484.0" stroke="#4aa94a" stroke-width="1"/>
<rect x="860" y="467.0" width="5" height="11.7" fill="#4aa94a"/>
<line x1="869.5" y1="481.5" x2="869.5" y2="498.9" stroke="#b81c0c" stroke-width="1"/>
<rect x="867" y="488.7" width="5" height="3.4" fill="#b81c0c"/>
<line x1="876.5" y1="481.5" x2="876.5" y2="502.7" stroke="#b81c0c" stroke-width="1"/>
<rect x="874" y="490.0" width="5" height="6.3" fill="#b81c0c"/>
<line x1="883.5" y1="495.1" x2="883.5" y2="498.9" stroke="#55b055" stroke-width="1"/>
<rect x="881.5" y="462.4" width="4" height="32.7" fill="none" stroke="#55b055" stroke-width="1"/>
<line x1="890.5" y1="443.3" x2="890.5" y2="447.5" stroke="#55b055" stroke-width="1"/>
<line x1="890.5" y1="464.5" x2="890.5" y2="473.4" stroke="#55b055" stroke-width="1"/>
<rect x="888.5" y="447.5" width="4" height="17.0" fill="none" stroke="#55b055" stroke-width="1"/>
<line x1="897.5" y1="408.7" x2="897.5" y2="419.3" stroke="#55b055" stroke-width="1"/>
<line x1="897.5" y1="431.0" x2="897.5" y2="443.3" stroke="#55b055" stroke-width="1"/>
<rect x="895.5" y="419.3" width="4" height="11.7" fill="none" stroke="#55b055" stroke-width="1"/>
<line x1="904.5" y1="391.7" x2="904.5" y2="396.6" stroke="#55b055" stroke-width="1"/>
<line x1="904.5" y1="411.8" x2="904.5" y2="414.0" stroke="#55b055" stroke-width="1"/>
<rect x="902.5" y="396.6" width="4" height="15.2" fill="none" stroke="#55b055" stroke-width="1"/>
<polyline points="20,330.2 215,330.5 400,332 480,331.5 640,328 904.5,328.3" fill="none" stroke="#d46a6a" stroke-width="2" stroke-dasharray="4,2.7"/>
<polygon points="883.3,321.7 889.7,328 883.3,334.3" fill="#c0282a"/>
<line x1="682.5" y1="395.5" x2="1171" y2="395.5" stroke="#4d5cb8" stroke-width="1.1"/>
<line x1="682.5" y1="425.5" x2="1170" y2="425.5" stroke="#4d5cb8" stroke-width="1.1"/>
<line x1="682.2" y1="302.4" x2="820.5" y2="545.5" stroke="#4555b5" stroke-width="1.5" stroke-dasharray="3,2.8"/>
<line x1="252.4" y1="556.6" x2="1171" y2="556.6" stroke="#56636d" stroke-width="1.8"/>
<text x="1132.5" y="570" font-size="11" font-weight="bold" fill="#34444f" text-anchor="end" textLength="29" lengthAdjust="spacingAndGlyphs">30.65</text>
<text x="1135" y="407.7" font-size="10.5" fill="#5163b8" text-anchor="end" textLength="69" lengthAdjust="spacingAndGlyphs">0.618 (38.06)</text>
<text x="1135" y="437.3" font-size="10.5" fill="#5163b8" text-anchor="end" textLength="55.3" lengthAdjust="spacingAndGlyphs">0.5 (36.73)</text>
<rect x="1140.7" y="387" width="40" height="17.7" fill="#777"/>
<text x="1160.7" y="399.2" font-size="10.5" fill="#fff" text-anchor="middle" textLength="28" lengthAdjust="spacingAndGlyphs">38.04</text>
<polyline points="20.0,738.8 23.3,747.0 30.2,737.0 37.1,735.5 44.1,744.2 51.0,733.8 57.9,710.0 64.9,692.5 71.8,708.2 78.7,713.2 85.7,728.0 92.6,721.8 99.5,736.2 106.5,752.0 113.4,715.0 120.4,725.0 127.3,713.0 134.2,732.5 141.2,729.2 148.1,735.0 155.0,727.5 162.0,734.2 168.9,723.8 175.8,705.5 182.8,692.5 189.7,690.8 196.6,696.2 203.6,689.5 210.5,705.0 217.5,702.5 224.4,695.0 231.3,703.8 238.3,717.5 245.2,737.5 252.1,757.5 259.1,743.8 266.0,730.5 272.9,751.2 279.9,745.0 286.8,734.5 293.7,732.2 300.7,730.0 307.6,705.8 314.6,708.0 321.5,715.0 328.4,721.2 335.4,737.5 342.3,731.2 349.2,728.8 356.2,739.2 363.1,718.2 370.0,722.5 377.0,737.0 383.9,727.0 390.8,724.2 397.8,725.5 404.7,705.0 411.7,708.8 418.6,683.8 425.5,679.5 432.5,675.0 439.4,682.5 446.3,685.0 453.3,703.8 460.2,685.0 467.1,672.0 474.1,666.2 481.0,659.5 487.9,670.8 494.9,657.0 501.8,675.5 508.7,678.8 515.7,660.8 522.6,676.2 529.6,661.8 536.5,656.2 543.4,647.0 550.4,648.0 557.3,655.0 564.2,666.8 571.2,662.5 578.1,651.6 585.0,673.1 592.0,673.1 598.9,663.4 605.8,650.4 612.8,672.5 619.7,669.1 626.7,675.9 633.6,691.8 640.5,687.2 647.5,688.7 654.4,683.8 661.3,663.4 668.3,658.3 675.2,649.3 682.1,639.9 689.1,671.7 696.0,670.5 702.9,670.2 709.9,683.3 716.8,664.0 723.8,702.3 730.7,720.1 737.6,724.1 744.6,743.9 751.5,748.4 758.4,750.4 765.4,740.5 772.3,758.9 779.2,768.0 786.2,753.3 793.1,711.3 800.0,720.7 807.0,722.7 813.9,732.6 820.9,744.2 827.8,745.6 834.7,744.2 841.7,734.8 848.6,732.0 855.5,721.2 862.5,709.9 869.4,717.8 876.3,720.7 883.3,695.2 890.2,685.3 897.1,669.7 904.1,658.3" fill="none" stroke="#4b5ce6" stroke-width="1.3" stroke-linejoin="round"/>
<text x="22" y="636" font-size="11.2" fill="#6474e8" stroke="#6474e8" stroke-width="0.2" textLength="267" lengthAdjust="spacingAndGlyphs">Relative Strength Index (14, 70, 30, close), Daily</text>
<g fill="none" stroke="#3f8f76" stroke-width="1.05">
<path d="M26.6,29.7 L27.9,33.5 M27.9,36.4 L26.3,40.6" stroke-width="1.1"/>
<circle cx="25.84" cy="28.14" r="1.55"/>
<circle cx="36.36" cy="26.1" r="1.75"/>
<circle cx="32.46" cy="30.35" r="1.55"/>
<circle cx="21.26" cy="34.42" r="1.75"/>
<circle cx="28.56" cy="34.93" r="1.3"/>
<circle cx="33.48" cy="36.97" r="1.55"/>
<circle cx="40.26" cy="39.85" r="1.75"/>
<circle cx="25.67" cy="42.4" r="1.75"/>
</g>
</svg></body></html>
